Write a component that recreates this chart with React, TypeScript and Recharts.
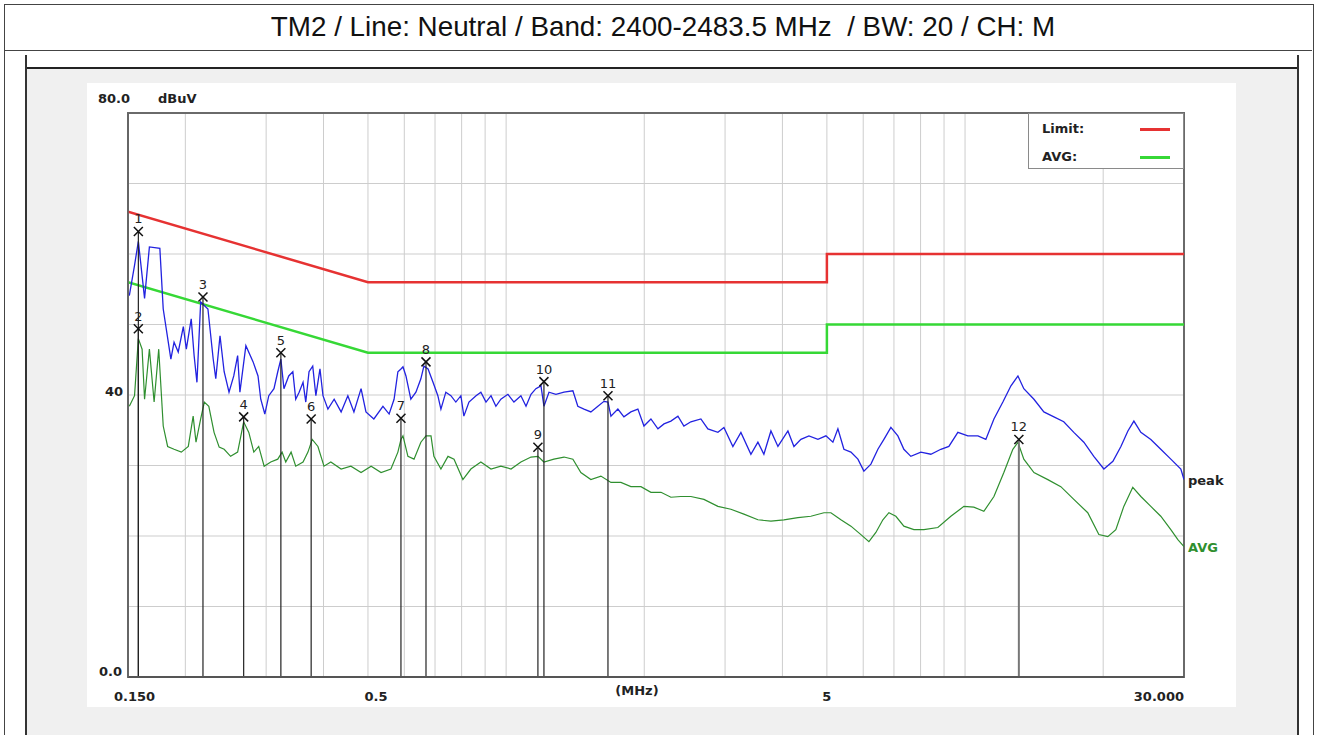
import React from 'react';
import {
  ComposedChart,
  Line,
  XAxis,
  YAxis,
  CartesianGrid,
  Scatter,
  ReferenceLine,
  ReferenceArea,
  Legend,
} from 'recharts';

// peak scan (blue)
const PEAK_MHZ = [
  0.151, 0.155, 0.158, 0.163, 0.167, 0.176, 0.179, 0.186, 0.189, 0.193, 0.198, 0.201, 0.206, 0.209, 0.212,
  0.216, 0.224, 0.23, 0.233, 0.238, 0.243, 0.249, 0.255, 0.26, 0.263, 0.271, 0.281, 0.288, 0.292, 0.298,
  0.304, 0.312, 0.318, 0.323, 0.328, 0.336, 0.343, 0.348, 0.354, 0.361, 0.366, 0.372, 0.379, 0.385, 0.393,
  0.399, 0.409, 0.422, 0.437, 0.452, 0.466, 0.483, 0.495, 0.515, 0.539, 0.556, 0.57, 0.581, 0.59, 0.596,
  0.605, 0.62, 0.636, 0.652, 0.662, 0.676, 0.693, 0.71, 0.721, 0.739, 0.758, 0.777, 0.797, 0.809, 0.83,
  0.86, 0.881, 0.904, 0.927, 0.95, 0.974, 1.009, 1.04, 1.077, 1.105, 1.133, 1.161, 1.191, 1.209, 1.24,
  1.284, 1.337, 1.398, 1.433, 1.478, 1.53, 1.585, 1.634, 1.667, 1.692, 1.752, 1.806, 1.87, 1.937, 1.997,
  2.068, 2.142, 2.208, 2.286, 2.368, 2.44, 2.527, 2.657, 2.752, 2.894, 2.983, 3.12, 3.248, 3.415, 3.537,
  3.645, 3.776, 3.911, 4.112, 4.238, 4.389, 4.569, 4.78, 4.976, 5.153, 5.284, 5.446, 5.641, 5.842, 6.02,
  6.236, 6.458, 6.656, 6.893, 7.139, 7.357, 7.619, 8.012, 8.424, 8.857, 9.221, 9.647, 10.14, 10.67, 11.1,
  11.56, 12.09, 12.59, 13.04, 13.43, 14.13, 14.85, 15.62, 16.41, 17.26, 18.15, 19.08, 20.07, 21.0, 21.86,
  22.64, 23.33, 24.16, 25.4, 26.7, 28.08, 29.53, 30.0,
];
const PEAK_DBUV = [
  54.1, 58.4, 61.8, 53.7, 61.0, 60.8, 52.2, 45.1, 47.5, 46.1, 49.7, 46.5, 50.8, 45.6, 41.8,
  53.2, 52.2, 45.1, 42.3, 48.4, 43.3, 40.4, 42.7, 45.6, 40.4, 47.0, 44.7, 42.7, 39.4, 37.3,
  39.9, 40.9, 43.3, 45.1, 40.9, 42.7, 43.3, 39.4, 40.4, 41.8, 39.0, 43.3, 44.1, 39.9, 43.7,
  39.9, 38.0, 39.4, 37.6, 39.9, 37.6, 40.9, 37.6, 36.6, 38.4, 37.3, 39.4, 43.3, 43.7, 44.0,
  42.7, 39.4, 40.4, 42.3, 44.1, 43.7, 41.8, 39.9, 38.0, 40.4, 39.9, 39.0, 39.9, 37.0, 39.0,
  39.9, 40.4, 39.0, 39.9, 38.4, 39.4, 40.1, 39.0, 39.9, 38.4, 40.1, 40.9, 41.3, 38.4, 40.4,
  40.1, 40.4, 40.6, 38.4, 38.0, 37.6, 38.4, 39.1, 39.0, 37.0, 38.0, 36.9, 37.6, 38.0, 35.6,
  36.6, 35.2, 35.9, 36.3, 37.0, 35.6, 36.2, 36.6, 35.2, 34.7, 35.4, 32.7, 34.7, 31.6, 33.3,
  31.6, 34.9, 32.7, 34.9, 32.7, 33.7, 34.2, 33.7, 34.2, 33.3, 35.2, 32.3, 31.9, 30.9, 29.2,
  30.2, 32.3, 33.7, 35.4, 34.2, 32.3, 31.3, 31.9, 31.6, 32.3, 32.7, 34.7, 34.2, 34.2, 33.7,
  36.6, 39.0, 41.3, 42.7, 40.9, 39.4, 37.6, 36.9, 36.2, 34.7, 33.3, 31.3, 29.5, 30.6, 32.7,
  34.9, 36.3, 34.7, 33.7, 32.3, 30.9, 29.5, 28.0,
];

// average scan (dark green)
const AVG_MHZ = [
  0.151, 0.155, 0.158, 0.161, 0.163, 0.167, 0.171, 0.175, 0.179, 0.183, 0.189, 0.196, 0.203, 0.208, 0.211,
  0.216, 0.22, 0.225, 0.231, 0.237, 0.243, 0.251, 0.26, 0.268, 0.275, 0.282, 0.289, 0.297, 0.307, 0.318,
  0.325, 0.331, 0.34, 0.348, 0.361, 0.37, 0.378, 0.389, 0.401, 0.415, 0.437, 0.459, 0.483, 0.508, 0.534,
  0.561, 0.581, 0.59, 0.596, 0.611, 0.63, 0.652, 0.669, 0.686, 0.696, 0.721, 0.747, 0.77, 0.805, 0.838,
  0.881, 0.927, 0.974, 1.025, 1.077, 1.133, 1.173, 1.209, 1.271, 1.337, 1.398, 1.455, 1.53, 1.609, 1.692,
  1.779, 1.87, 1.967, 2.068, 2.175, 2.286, 2.404, 2.527, 2.698, 2.894, 3.089, 3.297, 3.537, 3.776, 4.03,
  4.323, 4.614, 4.926, 5.102, 5.364, 5.641, 5.931, 6.174, 6.393, 6.622, 6.825, 7.068, 7.357, 7.736, 8.135,
  8.725, 9.313, 9.944, 10.45, 10.99, 11.56, 12.15, 12.71, 13.04, 13.43, 14.13, 15.15, 16.17, 17.26, 18.51,
  19.57, 20.47, 21.31, 22.18, 23.2, 24.16, 25.4, 26.7, 28.08, 29.09, 30.0,
];
const AVG_DBUV = [
  38.4, 39.9, 48.0, 46.5, 39.4, 46.5, 39.0, 46.5, 35.6, 32.7, 32.3, 31.9, 32.7, 37.0, 33.3,
  36.6, 39.0, 38.4, 34.7, 32.6, 32.3, 31.3, 31.9, 36.2, 34.7, 31.9, 32.7, 29.9, 30.5, 30.9,
  31.9, 30.5, 31.9, 29.9, 30.5, 31.9, 33.7, 32.7, 29.9, 30.5, 29.5, 29.9, 29.0, 29.9, 29.0,
  29.5, 31.9, 33.7, 34.2, 31.3, 30.9, 33.3, 34.2, 34.2, 31.3, 29.5, 31.3, 30.9, 28.0, 29.5,
  30.5, 29.5, 29.9, 29.5, 30.5, 31.2, 31.3, 30.5, 30.9, 31.2, 30.9, 29.0, 28.0, 28.5, 27.6,
  27.6, 27.0, 27.0, 26.2, 26.2, 25.5, 25.6, 25.6, 25.2, 24.2, 23.8, 23.1, 22.3, 22.1, 22.3,
  22.6, 22.8, 23.3, 23.3, 22.3, 21.4, 20.2, 19.2, 20.5, 22.3, 23.3, 22.8, 21.4, 20.9, 20.9,
  21.2, 22.8, 24.2, 24.1, 23.5, 25.6, 29.0, 32.3, 33.3, 30.9, 29.0, 28.0, 27.0, 25.2, 23.3,
  20.2, 19.9, 20.9, 24.2, 26.9, 25.6, 24.2, 22.8, 20.9, 19.5, 18.5,
];

// limit lines
const LIMIT_MHZ = [0.15, 0.5, 0.5, 5, 5, 30];
const QP_LIMIT = [66, 56, 56, 56, 60, 60];
const AV_LIMIT = [56, 46, 46, 46, 50, 50];

// numbered markers
const MARKER_NO = [1, 2, 3, 4, 5, 6, 7, 8, 9, 10, 11, 12];
const MARKER_MHZ = [0.158, 0.158, 0.2185, 0.268, 0.323, 0.376, 0.59, 0.669, 1.173, 1.209, 1.667, 13.1];
const MARKER_DBUV = [63.2, 49.4, 53.9, 36.9, 46.0, 36.6, 36.7, 44.7, 32.6, 41.9, 39.9, 33.7];

const GRID_MHZ = [0.15, 0.2, 0.3, 0.4, 0.5, 0.6, 0.7, 0.8, 0.9, 1, 2, 3, 4, 5, 6, 7, 8, 9, 10, 20, 30];
const X_LABELS: Record<string, string> = { '0.15': '0.150', '0.5': '0.5', '5': '5', '30': '30.000' };
const Y_TICKS = [0, 10, 20, 30, 40, 50, 60, 70, 80];
const Y_LABELS: Record<string, string> = { '0': '0.0', '40': '40', '80': '80.0' };

const TITLE = 'TM2 / Line: Neutral / Band: 2400-2483.5 MHz  / BW: 20 / CH: M';

const toRows = (xs: number[], ys: number[]) => xs.map((f, i) => ({ f, v: ys[i] }));

const peakRows = toRows(PEAK_MHZ, PEAK_DBUV);
const avgRows = toRows(AVG_MHZ, AVG_DBUV);
const qpRows = toRows(LIMIT_MHZ, QP_LIMIT);
const avRows = toRows(LIMIT_MHZ, AV_LIMIT);
const markerRows = MARKER_MHZ.map((f, i) => ({ f, v: MARKER_DBUV[i], n: MARKER_NO[i] }));

const AXIS_FONT = { fontFamily: '"DejaVu Sans", sans-serif', fontWeight: 700, fontSize: 13 };

function XTick(props: any) {
  const { x, y, payload } = props;
  const text = X_LABELS[String(payload.value)];
  if (!text) return <g />;
  const v = payload.value;
  const anchor = v === 0.15 ? 'start' : v === 30 ? 'end' : 'middle';
  const dx = v === 0.15 ? -14 : v === 0.5 ? 8 : 0;
  return (
    <text x={x + dx} y={y + 16} textAnchor={anchor} fill="#222" {...AXIS_FONT}>
      {text}
    </text>
  );
}

function YTick(props: any) {
  const { x, y, payload } = props;
  const text = Y_LABELS[String(payload.value)];
  if (!text) return <g />;
  if (payload.value === 80) {
    return (
      <g>
        <text x={x - 22} y={y - 10} textAnchor="start" fill="#222" {...AXIS_FONT}>
          {text}
        </text>
        <text x={x + 38} y={y - 10} textAnchor="start" fill="#222" {...AXIS_FONT}>
          dBuV
        </text>
      </g>
    );
  }
  const zero = payload.value === 0;
  return (
    <text x={x + (zero ? 2 : 3)} y={y + (zero ? -1 : 1)} textAnchor="end" fill="#222" {...AXIS_FONT}>
      {text}
    </text>
  );
}

function MarkerShape(props: any) {
  const { cx, cy, payload } = props;
  const s = 4.5;
  return (
    <g>
      <line x1={cx - s} y1={cy - s} x2={cx + s} y2={cy + s} stroke="#111" strokeWidth={1.5} />
      <line x1={cx - s} y1={cy + s} x2={cx + s} y2={cy - s} stroke="#111" strokeWidth={1.5} />
      <text x={cx} y={cy - 8} textAnchor="middle" fill="#222" fontFamily='"DejaVu Sans", sans-serif' fontSize={13}>
        {payload.n}
      </text>
    </g>
  );
}

function endLabel(text: string, color: string, count: number) {
  return (p: any) =>
    p.index === count - 1 ? (
      <text x={p.x + 4} y={p.y + 5} fill={color} {...AXIS_FONT}>
        {text}
      </text>
    ) : (
      <g />
    );
}

function LegendBox() {
  return (
    <div
      style={{
        width: 156,
        height: 56,
        boxSizing: 'border-box',
        border: '1px solid #8a8a8a',
        background: '#fff',
        position: 'relative',
        ...AXIS_FONT,
        color: '#222',
      }}
    >
      <span style={{ position: 'absolute', left: 13, top: 7 }}>Limit:</span>
      <span style={{ position: 'absolute', left: 111, top: 14, width: 30, height: 3, background: '#e63232' }} />
      <span style={{ position: 'absolute', left: 13, top: 35 }}>AVG:</span>
      <span style={{ position: 'absolute', left: 111, top: 42, width: 30, height: 3, background: '#36d836' }} />
    </div>
  );
}

export default function App() {
  return (
    <div
      style={{
        position: 'relative',
        width: 1317,
        height: 735,
        background: '#fff',
        overflow: 'hidden',
        fontFamily: 'Arial, "Liberation Sans", sans-serif',
      }}
    >
      <style>{'body{margin:0}'}</style>
      {/* outer report box */}
      <div style={{ position: 'absolute', left: 4, top: 4, width: 1308, height: 760, border: '1px solid #444' }} />
      <div
        style={{
          position: 'absolute',
          left: 4,
          top: 4,
          width: 1308,
          height: 47,
          boxSizing: 'border-box',
          paddingLeft: 10,
          borderBottom: '1px solid #444',
          display: 'flex',
          alignItems: 'center',
          justifyContent: 'center',
          fontSize: 27.8,
          color: '#111',
          whiteSpace: 'pre',
        }}
      >
        {TITLE}
      </div>
      {/* screenshot frame */}
      <div
        style={{
          position: 'absolute',
          left: 25,
          top: 55,
          width: 1270,
          height: 700,
          borderLeft: '2px solid #333',
          borderRight: '2px solid #333',
        }}
      />
      <div
        style={{
          position: 'absolute',
          left: 27,
          top: 67,
          width: 1270,
          height: 700,
          borderTop: '2px solid #222',
          background: '#f0f0f0',
        }}
      />
      <div style={{ position: 'absolute', left: 87, top: 83, width: 1149, height: 624, background: '#fff' }} />
      <div style={{ position: 'absolute', left: 87, top: 83 }}>
        <ComposedChart width={1149} height={624} margin={{ top: 30, right: 52, bottom: 8, left: 5 }}>
          <CartesianGrid stroke="#cdcdcd" strokeWidth={1} />
          <XAxis
            dataKey="f"
            type="number"
            scale="log"
            domain={[0.15, 30]}
            allowDataOverflow
            ticks={GRID_MHZ}
            interval={0}
            tickLine={false}
            axisLine={{ stroke: '#555', strokeWidth: 2 }}
            height={22}
            tick={<XTick />}
            label={{
              content: (p: any) => {
                const vb = p.viewBox;
                return (
                  <text x={vb.x + vb.width * 0.482} y={vb.y + 18} textAnchor="middle" fill="#222" {...AXIS_FONT}>
                    (MHz)
                  </text>
                );
              },
            }}
          />
          <YAxis
            type="number"
            domain={[0, 80]}
            ticks={Y_TICKS}
            interval={0}
            tickLine={false}
            axisLine={{ stroke: '#666', strokeWidth: 1.5 }}
            width={36}
            tick={<YTick />}
          />
          <ReferenceArea x1={0.15} x2={30} y1={0} y2={80} fill="none" stroke="#6a6a6a" strokeWidth={2} ifOverflow="visible" />
          <Line data={qpRows} dataKey="v" stroke="#e63232" strokeWidth={2.5} dot={false} isAnimationActive={false} />
          <Line data={avRows} dataKey="v" stroke="#36d836" strokeWidth={2.5} dot={false} isAnimationActive={false} />
          <Line
            data={avgRows}
            dataKey="v"
            stroke="#2f8f2f"
            strokeWidth={1.2}
            dot={false}
            isAnimationActive={false}
            label={endLabel('AVG', '#2f8f2f', avgRows.length)}
          />
          <Line
            data={peakRows}
            dataKey="v"
            stroke="#2222e0"
            strokeWidth={1.3}
            dot={false}
            isAnimationActive={false}
            label={endLabel('peak', '#222', peakRows.length)}
          />
          {markerRows.map((m, i) => (
            <ReferenceLine
              key={i}
              segment={[
                { x: m.f, y: 0 },
                { x: m.f, y: m.v },
              ]}
              stroke={m.n === 12 ? '#777' : '#222'}
              strokeWidth={m.n === 12 ? 2 : 1.2}
            />
          ))}
          <Scatter data={markerRows} dataKey="v" shape={<MarkerShape />} isAnimationActive={false} />
          <Legend
            layout="horizontal"
            verticalAlign="middle"
            align="center"
            content={() => <LegendBox />}
            wrapperStyle={{ position: 'absolute', top: 30, left: 941, width: 156, height: 56 }}
          />
        </ComposedChart>
      </div>
    </div>
  );
}
